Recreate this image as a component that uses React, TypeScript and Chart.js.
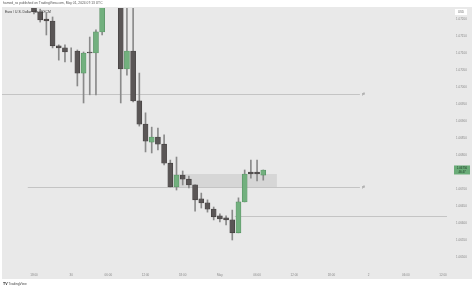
import React, { useEffect, useRef } from 'react';
import { Chart, registerables } from 'chart.js';
Chart.register(...registerables);

// Hourly EUR/USD candles, 29 Apr 18:00 -> 1 May 07:00 (index = hours after first candle)
const candleIndex = [0,1,2,3,4,5,6,7,8,9,10,11,12,13,14,15,16,17,18,19,20,21,22,23,24,25,26,27,28,29,30,31,32,33,34,35,36,37];
const opens = [1.07238,1.07221,1.07200,1.07194,1.07121,1.07115,1.07106,1.07106,1.07041,1.07103,1.07100,1.07162,1.07256,1.07344,1.07300,1.07053,1.07106,1.06959,1.06891,1.06838,1.06853,1.06832,1.06776,1.06706,1.06741,1.06729,1.06712,1.06671,1.06659,1.06641,1.06621,1.06615,1.06609,1.06571,1.06662,1.06750,1.06750,1.06741];
const highs = [1.07244,1.07229,1.07218,1.07206,1.07124,1.07124,1.07115,1.07109,1.07103,1.07147,1.07168,1.07271,1.07360,1.07380,1.07320,1.07271,1.07245,1.07041,1.06924,1.06882,1.06879,1.06859,1.06785,1.06794,1.06753,1.06738,1.06712,1.06688,1.06668,1.06647,1.06627,1.06621,1.06638,1.06674,1.06756,1.06785,1.06785,1.06756];
const lows = [1.07215,1.07191,1.07153,1.07115,1.07079,1.07074,1.07074,1.07003,1.06953,1.06977,1.06977,1.07153,1.07240,1.07280,1.06953,1.07035,1.06956,1.06885,1.06809,1.06806,1.06815,1.06771,1.06706,1.06697,1.06712,1.06703,1.06635,1.06644,1.06632,1.06609,1.06603,1.06594,1.06550,1.06571,1.06662,1.06732,1.06724,1.06726];
const closes = [1.07221,1.07197,1.07194,1.07121,1.07115,1.07103,1.07106,1.07041,1.07100,1.07100,1.07162,1.07256,1.07344,1.07300,1.07053,1.07106,1.06959,1.06891,1.06841,1.06853,1.06832,1.06776,1.06706,1.06741,1.06729,1.06712,1.06668,1.06659,1.06641,1.06618,1.06612,1.06609,1.06571,1.06662,1.06744,1.06744,1.06744,1.06756];

const xTickPositions = [0,6,12,18,24,30,36,42,48,54,60,66];
const xTickLabels = ['18:00','30','06:00','12:00','18:00','May','06:00','12:00','18:00','2','06:00','12:00'];
const yTickValues = [1.065,1.0655,1.066,1.0665,1.067,1.0675,1.068,1.0685,1.069,1.0695,1.07,1.0705,1.071,1.0715,1.072];

const levelPrices = [1.06980, 1.06706, 1.06621];
const levelStarts = [-5.2, -1, 32.4];
const levelEnds = [52.6, 52.6, 70];
const levelTags = ['pft', 'pft', ''];
const zonePrices = [1.06744, 1.06706];
const zoneHours = [21.9, 39.2];

const lastPrice = 1.06756;
const lastCountdown = '46:47';
const headerText = 'hamed_ss published on TradingView.com, May 01, 2024 07:13 UTC';
const legendText = 'Euro / U.S. Dollar · 1h · FXCM';

const FONT = '"Liberation Sans", Arial, sans-serif';
const BULL = '#72b07e';
const BULL_EDGE = '#4f8a5c';
const BEAR = '#5a5656';
const BEAR_EDGE = '#3e3b3b';
const WICK = '#8a8a8a';

const decor = {
  id: 'decor',
  beforeDraw(chart: any) {
    const { ctx, width, height } = chart;
    ctx.save();
    ctx.fillStyle = '#ffffff';
    ctx.fillRect(0, 0, width, height);
    ctx.fillStyle = '#e9e9e9';
    ctx.fillRect(2, 7, 470, 272);
    ctx.restore();
  },
  beforeDatasetsDraw(chart: any) {
    const { ctx, chartArea: ca } = chart;
    const xs = chart.scales.x, ys = chart.scales.y;
    ctx.save();
    const zx0 = xs.getPixelForValue(zoneHours[0]);
    const zx1 = xs.getPixelForValue(zoneHours[1]);
    const zy0 = ys.getPixelForValue(zonePrices[0]);
    const zy1 = ys.getPixelForValue(zonePrices[1]);
    ctx.fillStyle = 'rgba(190,190,190,0.45)';
    ctx.fillRect(zx0, zy0, zx1 - zx0, zy1 - zy0);
    ctx.strokeStyle = '#c4c4c4';
    ctx.lineWidth = 1;
    levelPrices.forEach((p, i) => {
      const y = Math.round(ys.getPixelForValue(p)) + 0.5;
      const a = Math.max(ca.left, xs.getPixelForValue(levelStarts[i]));
      const b = Math.min(ca.right, xs.getPixelForValue(levelEnds[i]));
      ctx.beginPath();
      ctx.moveTo(a, y);
      ctx.lineTo(b, y);
      ctx.stroke();
    });
    ctx.restore();
  },
  afterDraw(chart: any) {
    const { ctx } = chart;
    const xs = chart.scales.x, ys = chart.scales.y;
    ctx.save();
    ctx.textBaseline = 'middle';
    ctx.fillStyle = '#555';
    ctx.font = `3.3px ${FONT}`;
    ctx.textAlign = 'left';
    ctx.fillText(headerText, 3, 3.5);
    ctx.fillStyle = '#333';
    ctx.font = `3.4px ${FONT}`;
    ctx.fillText(legendText, 5, 12);
    ctx.fillStyle = '#777';
    ctx.font = `2.8px ${FONT}`;
    levelPrices.forEach((p, i) => {
      if (!levelTags[i]) return;
      ctx.fillText(levelTags[i], xs.getPixelForValue(levelEnds[i]) + 2, ys.getPixelForValue(p));
    });
    // price-axis labels
    ctx.fillStyle = '#888';
    ctx.font = `3px ${FONT}`;
    yTickValues.forEach((v) => {
      ctx.fillText(v.toFixed(5), 456, ys.getPixelForValue(v));
    });
    // time-axis labels
    ctx.textAlign = 'center';
    xTickPositions.forEach((v, i) => {
      ctx.fillText(xTickLabels[i], xs.getPixelForValue(v), 275.5);
    });
    ctx.fillStyle = '#ffffff';
    ctx.fillRect(455, 9, 12, 6);
    ctx.fillStyle = '#666';
    ctx.font = `2.8px ${FONT}`;
    ctx.fillText('USD', 461, 12);
    const ly = ys.getPixelForValue(lastPrice);
    ctx.fillStyle = '#6aac78';
    ctx.fillRect(454, ly - 4.5, 16, 9);
    ctx.fillStyle = '#1f3d27';
    ctx.font = `2.9px ${FONT}`;
    ctx.fillText(lastPrice.toFixed(5), 462, ly - 1.8);
    ctx.fillText(lastCountdown, 462, ly + 1.8);
    ctx.textAlign = 'left';
    ctx.fillStyle = '#222';
    ctx.font = `bold 3.6px ${FONT}`;
    ctx.fillText('TV', 3, 284);
    ctx.font = `3.3px ${FONT}`;
    ctx.fillStyle = '#444';
    ctx.fillText('TradingView', 8.5, 284);
    ctx.restore();
  },
};

export default function App() {
  const ref = useRef<HTMLCanvasElement>(null);
  useEffect(() => {
    if (!ref.current) return;
    const bodyColors = candleIndex.map((_, i) => (closes[i] >= opens[i] ? BULL : BEAR));
    const edgeColors = candleIndex.map((_, i) => (closes[i] >= opens[i] ? BULL_EDGE : BEAR_EDGE));
    const chart = new Chart(ref.current, {
      type: 'bar',
      data: {
        datasets: [
          {
            label: 'wick',
            data: candleIndex.map((x, i) => ({ x, y: [lows[i], highs[i]] })) as any,
            backgroundColor: WICK,
            barThickness: 1,
            grouped: false,
            order: 2,
          } as any,
          {
            label: 'body',
            data: candleIndex.map((x, i) => ({ x, y: [opens[i], closes[i]] })) as any,
            backgroundColor: bodyColors,
            borderColor: edgeColors,
            borderWidth: 0.6,
            borderSkipped: false,
            barThickness: 5,
            grouped: false,
            order: 1,
          } as any,
        ],
      },
      options: {
        animation: false,
        responsive: false,
        maintainAspectRatio: false,
        layout: { padding: { left: 2, right: 0, top: 8, bottom: 10 } },
        plugins: { legend: { display: false }, tooltip: { enabled: false } },
        scales: {
          x: {
            type: 'linear',
            min: -5.16,
            max: 66.65,
            offset: false,
            grid: { display: false },
            border: { display: false },
            afterFit: (s: any) => { s.height = 11; },
            ticks: { display: false },
          },
          y: {
            type: 'linear',
            position: 'right',
            min: 1.0646765,
            max: 1.0723235,
            grid: { display: false },
            border: { display: false },
            afterFit: (s: any) => { s.width = 27; },
            ticks: { display: false },
          },
        },
      },
      plugins: [decor],
    });
    return () => chart.destroy();
  }, []);
  return (
    <div style={{ position: 'fixed', left: 0, top: 0, width: 474, height: 289 }}>
      <canvas ref={ref} width={474} height={289} style={{ display: 'block', width: 474, height: 289 }} />
    </div>
  );
}
